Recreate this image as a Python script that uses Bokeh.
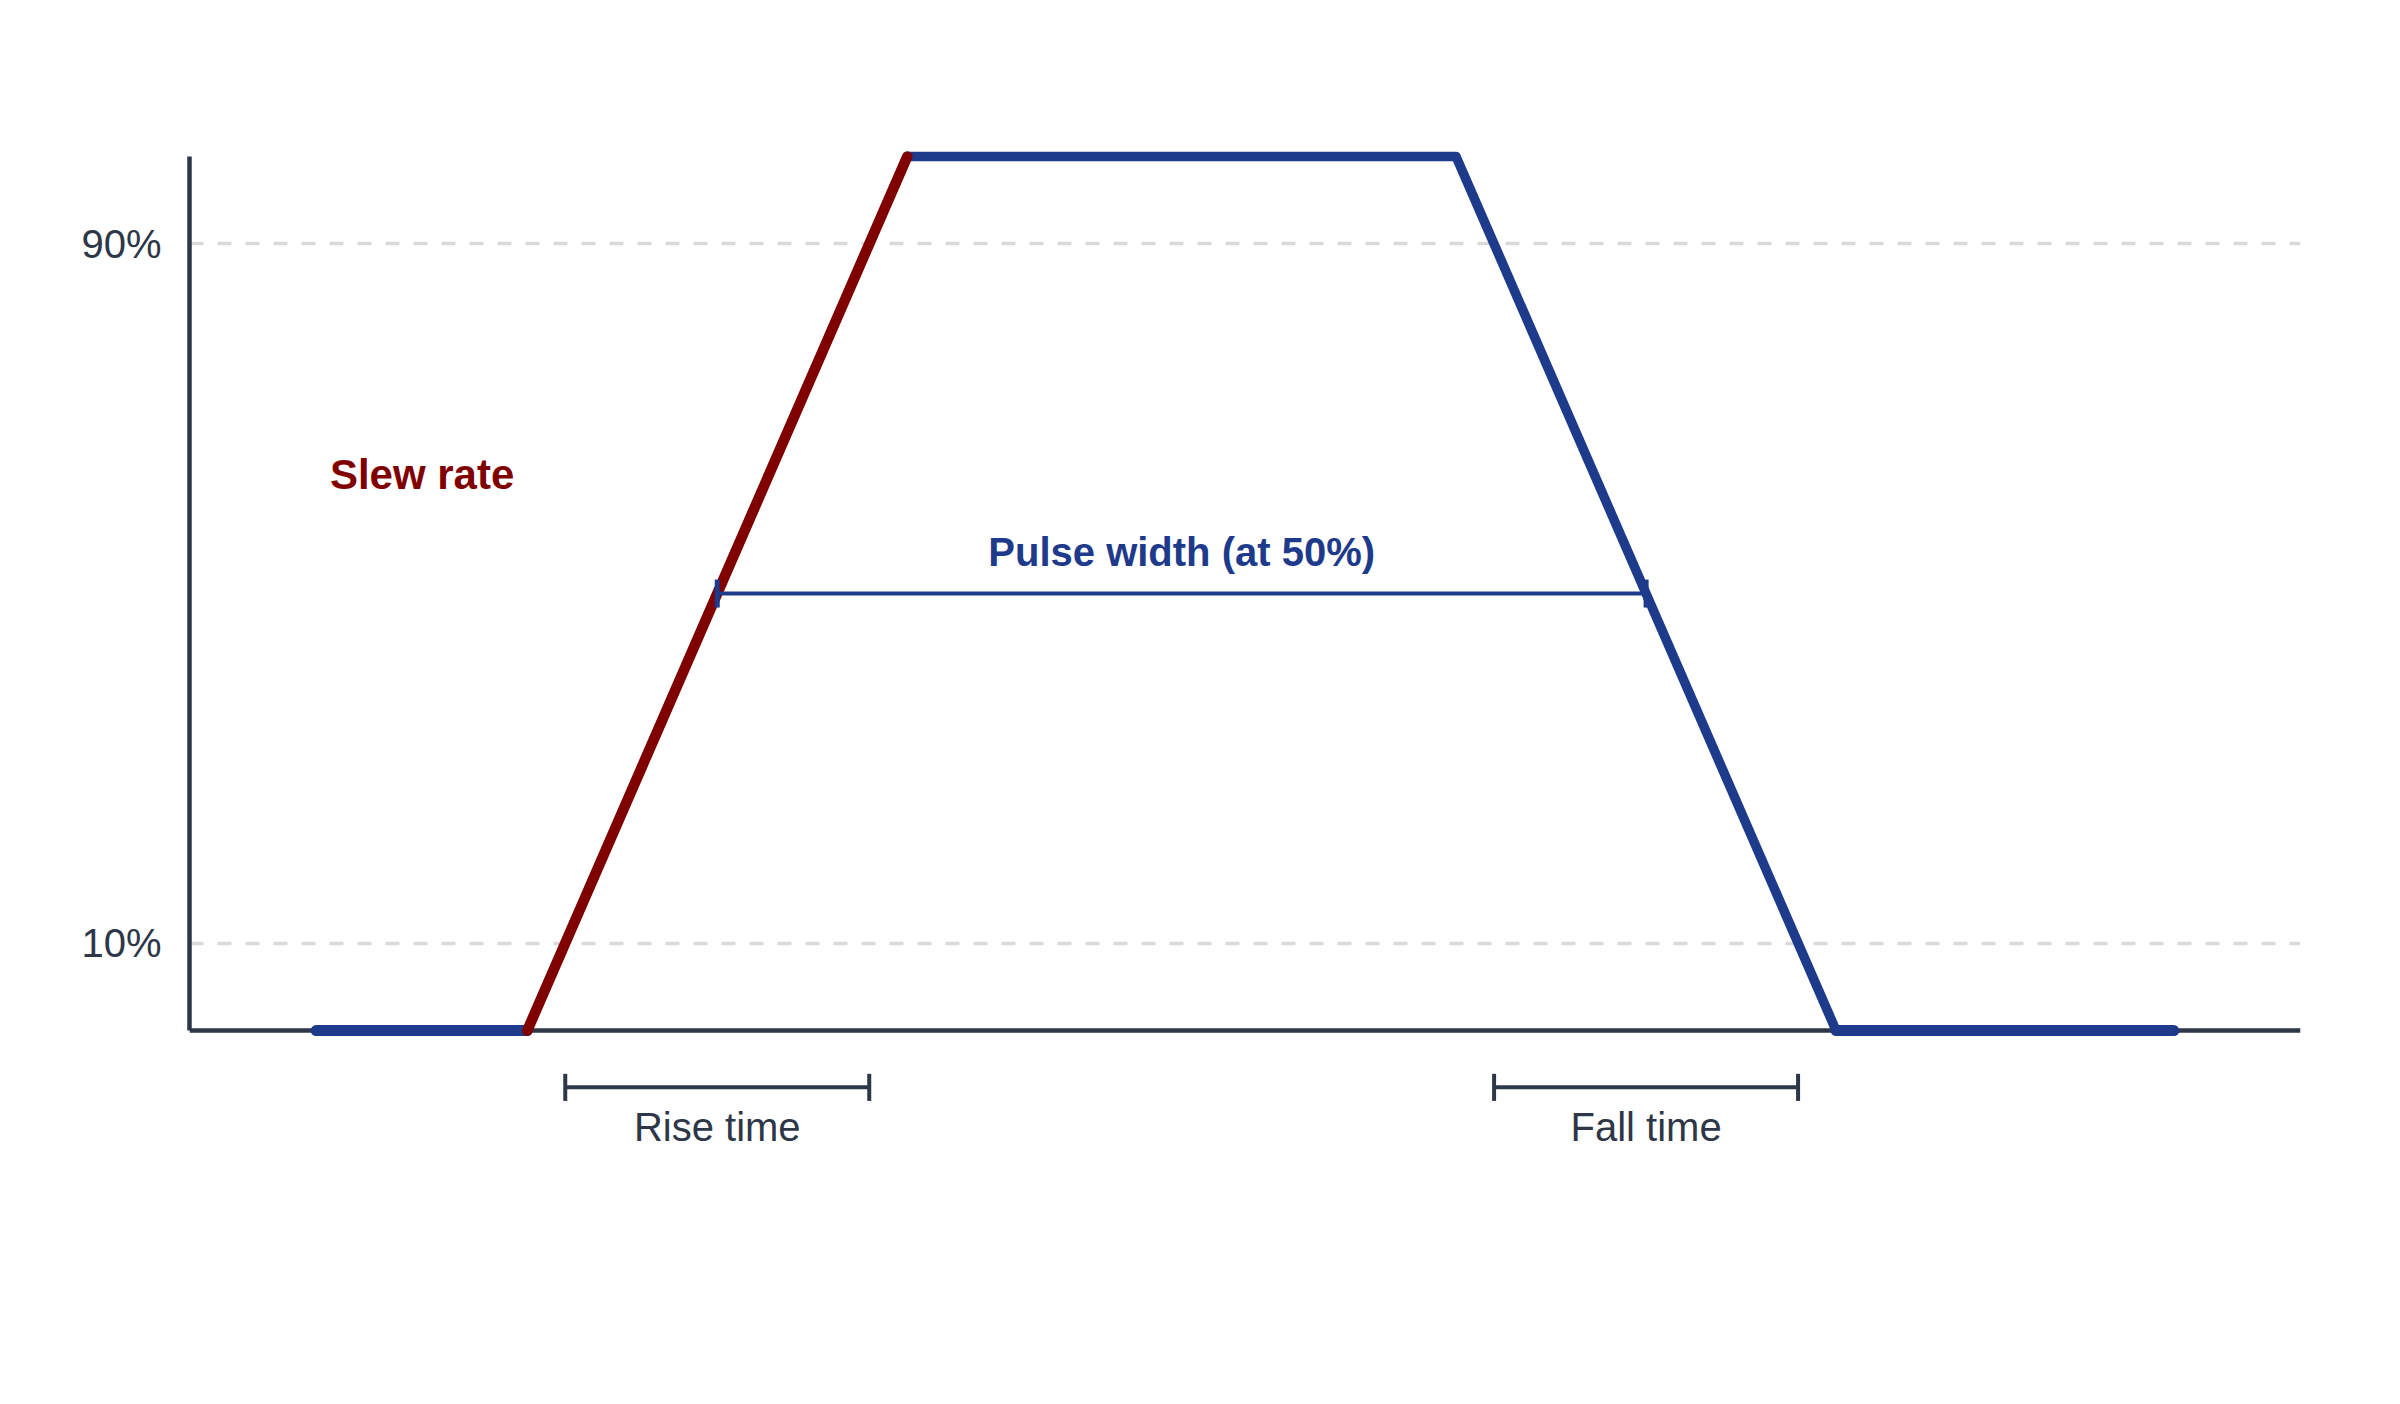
from bokeh.plotting import figure
from bokeh.models import Range1d, FixedTicker, ColumnDataSource
from bokeh.core.properties import value
from bokeh.embed import file_html
from bokeh.resources import INLINE

# ---- data ----
pulse_t = [0.6, 1.6, 3.4, 6.0, 7.8, 9.4]        # time of pulse corners
pulse_level = [0, 0, 100, 100, 0, 0]             # level in %
slew_t = [1.6, 3.4]                              # rising edge (slew rate)
slew_level = [0, 100]
threshold_ticks = [10, 90]
threshold_labels = ["10%", "90%"]
low_level = 0
high_level = 100
mid_level = 50

AXIS = "#2d3748"
BLUE = "#1e3a8a"
RED = "#800000"
FONT = "Liberation Sans"

# derived times from the pulse corners
rise_start, rise_end = pulse_t[1], pulse_t[2]
fall_start, fall_end = pulse_t[3], pulse_t[4]
rise_dur = rise_end - rise_start
fall_dur = fall_end - fall_start
rise10, rise90 = rise_start + 0.1 * rise_dur, rise_start + 0.9 * rise_dur
fall10, fall90 = fall_start + 0.1 * fall_dur, fall_start + 0.9 * fall_dur
rise50 = rise_start + 0.5 * rise_dur
fall50 = fall_start + 0.5 * fall_dur

p = figure(width=2384, height=1380, output_backend="svg", toolbar_location=None,
           x_range=Range1d(0, 10), y_range=Range1d(-40.04, 117.86),
           x_axis_location=None, min_border_left=189, min_border_right=84,
           min_border_top=0, min_border_bottom=0)
p.outline_line_color = None
p.xgrid.visible = False

# y axis
ya = p.yaxis[0]
ya.ticker = FixedTicker(ticks=threshold_ticks)
ya.major_label_overrides = {t: l for t, l in zip(threshold_ticks, threshold_labels)}
ya.bounds = (low_level, high_level)
ya.axis_line_color = AXIS
ya.axis_line_width = 4.5
ya.major_tick_line_color = None
ya.minor_tick_line_color = None
ya.major_label_text_font = FONT
ya.major_label_text_font_size = "40px"
ya.major_label_text_color = AXIS
ya.major_label_standoff = 22

p.ygrid.grid_line_color = "#dadada"
p.ygrid.grid_line_width = 3.5
p.ygrid.grid_line_dash = "14 14"

# baseline (x axis)
p.line([p.x_range.start, p.x_range.end], [low_level, low_level], line_color=AXIS, line_width=4.5)

# pulse
p.line(pulse_t, pulse_level, line_color=BLUE, line_width=9.5, line_join="round", line_cap="round")
p.line(pulse_t[:2], pulse_level[:2], line_color=BLUE, line_width=11, line_cap="round")
p.line(pulse_t[-2:], pulse_level[-2:], line_color=BLUE, line_width=11, line_cap="round")
p.line(slew_t, slew_level, line_color=RED, line_width=10.5, line_cap="round")

# pulse width marker
p.line([rise50, fall50], [mid_level, mid_level], line_color=BLUE, line_width=4)
p.segment(x0=[rise50, fall50], y0=[mid_level - 1.6] * 2, x1=[rise50, fall50], y1=[mid_level + 1.6] * 2,
          line_color=BLUE, line_width=5)

# rise / fall brackets
by = -6.5
p.segment(x0=[rise10, fall10], y0=[by, by], x1=[rise90, fall90], y1=[by, by], line_color=AXIS, line_width=4)
p.segment(x0=[rise10, rise90, fall10, fall90], y0=[by - 1.55] * 4,
          x1=[rise10, rise90, fall10, fall90], y1=[by + 1.55] * 4, line_color=AXIS, line_width=4)

lab = ColumnDataSource(dict(x=[(rise10 + rise90) / 2, (fall10 + fall90) / 2], y=[-11.0, -11.0],
                            t=["Rise time", "Fall time"]))
p.text(x="x", y="y", text="t", source=lab, text_align="center", text_baseline="alphabetic",
       text_font=value(FONT), text_font_size="40px", text_color=AXIS)

p.text(x=[0.665], y=[63.6], text=["Slew rate"], text_align="left", text_baseline="alphabetic",
       text_font=value(FONT), text_font_size="42px", text_font_style="bold", text_color=RED)
p.text(x=[(rise50 + fall50) / 2], y=[54.8], text=["Pulse width (at 50%)"], text_align="center",
       text_baseline="alphabetic", text_font=value(FONT), text_font_size="40px",
       text_font_style="bold", text_color=BLUE)

open("out.html", "w").write(file_html(p, INLINE))
